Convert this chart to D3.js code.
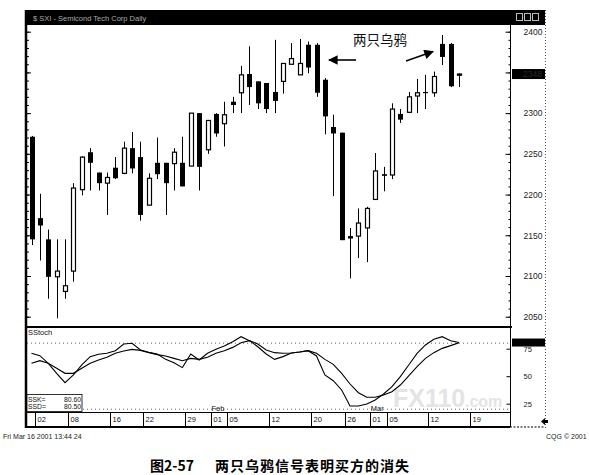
<!DOCTYPE html>
<html>
<head>
<meta charset="utf-8">
<script src="https://cdn.jsdelivr.net/npm/d3@7/dist/d3.min.js"></script>
<style>
body{margin:0;background:#fff;}
svg{display:block;font-family:"Liberation Sans",Arial,sans-serif;}
</style>
</head>
<body>
<svg id="chart" width="589" height="475"></svg>
<script>
// ---------------- data ----------------
const days = ["01-02","01-03","01-04","01-05","01-08","01-09","01-10","01-11","01-12","01-16",
  "01-17","01-18","01-19","01-22","01-23","01-24","01-25","01-26","01-29","01-30","01-31",
  "02-01","02-02","02-05","02-06","02-07","02-08","02-09","02-12","02-13","02-14","02-15",
  "02-16","02-20","02-21","02-22","02-23","02-26","02-27","02-28","03-01","03-02","03-05",
  "03-06","03-07","03-08","03-09","03-12","03-13","03-14","03-15","03-16"];
const open  = [2271,2171,2145,2099,2081,2106,2206,2252,2227,2214,2233,2226,2257,2246,2187,2239,2239,2238,2239,2235,2300,2255,2299,2287,2314,2325,2348,2339,2337,2326,2339,2360,2347,2384,2384,2341,2283,2276,2149,2149,2159,2194,2225,2224,2299,2301,2321,2326,2325,2385,2385,2347];
const high  = [2272,2201,2157,2145,2145,2214,2247,2257,2227,2227,2246,2265,2277,2265,2226,2270,2239,2257,2271,2300,2300,2291,2300,2314,2320,2358,2382,2339,2337,2390,2361,2386,2391,2388,2386,2343,2298,2276,2159,2183,2185,2251,2234,2312,2305,2326,2342,2347,2351,2396,2386,2349];
const low   = [2138,2119,2072,2048,2072,2093,2199,2205,2205,2175,2219,2225,2226,2168,2187,2219,2175,2205,2210,2235,2205,2250,2271,2259,2300,2300,2310,2305,2300,2300,2324,2360,2347,2349,2320,2274,2198,2144,2097,2122,2117,2194,2204,2219,2288,2300,2300,2305,2320,2359,2332,2332];
const close = [2145,2162,2099,2106,2088,2208,2246,2239,2214,2221,2220,2257,2232,2175,2220,2225,2214,2252,2210,2300,2234,2291,2275,2298,2310,2347,2332,2312,2305,2315,2361,2367,2361,2356,2325,2296,2275,2144,2146,2165,2183,2229,2223,2305,2292,2320,2325,2325,2345,2369,2333,2348];
const slowK = [70.8,68.7,61.7,52.6,44.1,51.1,60.2,67.8,69.9,70.8,73.2,79.3,79.9,73.8,71.7,70.2,65.3,62.3,57.8,70.2,64.7,70.8,74.4,77.5,81.4,85.9,82.3,76.8,70.2,65.3,67.8,71.1,72.0,73.2,68.4,51.1,45.9,37.5,22.9,22.9,24.7,28.4,33.8,40.5,49.6,60.2,70.8,78.4,83.5,85.9,82.3,80.6];
const slowD = [61.7,64.1,61.7,57.2,52.6,52.6,57.2,61.7,64.7,67.2,70.8,72.9,74.4,73.5,71.4,69.6,68.4,66.2,64.1,66.2,65.3,67.2,70.8,73.2,76.2,80.5,82.3,79.3,73.8,71.4,70.8,71.1,72.0,73.2,70.8,65.3,60.8,52.6,42.9,35.0,30.8,30.8,32.9,35.9,42.0,50.2,58.7,66.2,71.4,75.3,77.8,80.5];
const priceTicks = [2050,2100,2150,2200,2250,2300,2350,2400];
const priceTickLabels = ["2050","2100","2150","2200","2250","2300","2350","2400"];
const stochTicks = [25,50,75];
const stochLevels = [20,80];
const dateTickIdx = [0,4,9,13,18,21,23,28,33,37,40,42,47,52];
const dateTickLabels = ["02","08","16","22","29","01","05","12","20","26","01","05","12","19"];
const monthIdx = [21,40];
const monthLabels = ["Feb","Mar"];
const titleText = "$ SXI - Semicond Tech Corp Daily";
const annotation = "两只乌鸦";
const captionNum = "图2-57";
const captionText = "两只乌鸦信号表明买方的消失";
const stampText = "Fri Mar 16 2001 13:44 24";
const copyText = "CQG © 2001";

// ---------------- layout ----------------
const svg = d3.select("#chart");
const L = 25, R = 510, AX = 545;
const titleTop = 10, priceTop = 25, priceBot = 327, stochBot = 412, dateBot = 427;

const x = d3.scaleLinear().domain([0, 51]).range([31.5, 459]);
const y = d3.scaleLinear().domain([2050, 2400]).range([316.7, 31.7]);
const ys = d3.scaleLinear().domain([0, 100]).range([431.2, 321.2]);

// watermark
svg.append("text").attr("x", 393).attr("y", 407).attr("font-size", 25).attr("font-weight", "bold")
  .attr("fill", "#e4e4e4").text("FX110");
svg.append("text").attr("x", 465).attr("y", 407).attr("font-size", 16).attr("font-weight", "bold")
  .attr("fill", "#e4e4e4").text(".com");

// title bar
svg.append("rect").attr("x", L).attr("y", titleTop).attr("width", AX - L).attr("height", priceTop - titleTop).attr("fill", "#000");
svg.append("text").attr("x", 33).attr("y", 20.5).attr("font-size", 7.5).attr("fill", "#aaa").text(titleText);
[516, 524, 532].forEach(px => svg.append("rect").attr("x", px + 0.5).attr("y", 13.5).attr("width", 6).attr("height", 7)
  .attr("fill", "none").attr("stroke", "#bbb").attr("stroke-width", 1));

// frames
const frame = svg.append("g").attr("stroke", "#000");
frame.append("line").attr("x1", L + 1).attr("x2", L + 1).attr("y1", titleTop).attr("y2", dateBot + 1).attr("stroke-width", 2.5);
frame.append("line").attr("x1", R + 0.5).attr("x2", R + 0.5).attr("y1", priceTop).attr("y2", dateBot).attr("stroke-width", 1);
frame.append("line").attr("x1", L).attr("x2", R + 2).attr("y1", priceBot).attr("y2", priceBot).attr("stroke-width", 2.2);
frame.append("line").attr("x1", L).attr("x2", R).attr("y1", stochBot + 0.5).attr("y2", stochBot + 0.5).attr("stroke-width", 1);
frame.append("line").attr("x1", L).attr("x2", R).attr("y1", dateBot).attr("y2", dateBot).attr("stroke-width", 2.2);
frame.append("line").attr("x1", R).attr("x2", AX).attr("y1", dateBot).attr("y2", dateBot).attr("stroke-width", 1.2).attr("stroke-dasharray", "2,1.5");
frame.append("line").attr("x1", AX + 0.5).attr("x2", AX + 0.5).attr("y1", titleTop).attr("y2", dateBot + 2)
  .attr("stroke", "#555").attr("stroke-width", 1).attr("stroke-dasharray", "1,2");

// price axis (right)
const pAxis = svg.append("g").attr("transform", `translate(${R + 0.5},0)`)
  .call(d3.axisRight(y).tickValues(priceTicks).tickFormat((d, i) => priceTickLabels[i])
    .tickSizeInner(-5).tickSizeOuter(0).tickPadding(13));
pAxis.select(".domain").remove();
pAxis.selectAll("text").attr("font-size", 8.5).attr("fill", "#222");
const pMinor = svg.append("g").attr("transform", `translate(${R + 0.5},0)`)
  .call(d3.axisRight(y).tickValues(d3.range(2050, 2401, 10)).tickFormat("").tickSizeInner(-2).tickSizeOuter(0));
pMinor.select(".domain").remove();
// left inner ticks
const lAxis = svg.append("g").attr("transform", `translate(${L + 2},0)`)
  .call(d3.axisRight(y).tickValues(priceTicks).tickFormat("").tickSizeInner(4).tickSizeOuter(0));
lAxis.select(".domain").remove();
const lMinor = svg.append("g").attr("transform", `translate(${L + 2},0)`)
  .call(d3.axisRight(y).tickValues(d3.range(2050, 2401, 10)).tickFormat("").tickSizeInner(2).tickSizeOuter(0));
lMinor.select(".domain").remove();

// candles
const cg = svg.append("g");
days.forEach((d, i) => {
  const cx = Math.round(x(i));
  const up = close[i] > open[i];
  cg.append("line").attr("x1", cx + 0.5).attr("x2", cx + 0.5)
    .attr("y1", y(high[i])).attr("y2", y(low[i])).attr("stroke", "#000").attr("stroke-width", 1);
  const top = y(Math.max(open[i], close[i])), bot = y(Math.min(open[i], close[i]));
  const h = Math.max(1.2, bot - top);
  if (up) {
    cg.append("rect").attr("x", cx - 1.5).attr("y", top).attr("width", 4).attr("height", h)
      .attr("fill", "#fff").attr("stroke", "#000").attr("stroke-width", 1.2);
  } else {
    cg.append("rect").attr("x", cx - 2).attr("y", top).attr("width", 5).attr("height", h).attr("fill", "#000");
  }
});

// last price box
const lastC = close[close.length - 1];
svg.append("rect").attr("x", R + 2).attr("y", y(lastC) - 5).attr("width", AX - R - 2).attr("height", 10).attr("fill", "#000");
svg.append("text").attr("x", R + 13).attr("y", y(lastC) + 3).attr("font-size", 8.5).attr("fill", "#2a2a2a").text(String(lastC));

// annotation
svg.append("text").attr("x", 353).attr("y", 45).attr("font-size", 13.5)
  .attr("font-family", "Noto Sans CJK SC, sans-serif").attr("fill", "#111").text(annotation);
const defs = svg.append("defs");
defs.append("marker").attr("id", "ah").attr("viewBox", "0 0 10 10").attr("refX", 9).attr("refY", 5)
  .attr("markerWidth", 7).attr("markerHeight", 6).attr("orient", "auto")
  .append("path").attr("d", "M0,0 L10,5 L0,10 z").attr("fill", "#000");
svg.append("line").attr("x1", 356).attr("y1", 60).attr("x2", 329).attr("y2", 60)
  .attr("stroke", "#000").attr("stroke-width", 1.6).attr("marker-end", "url(#ah)");
svg.append("line").attr("x1", 406).attr("y1", 61).attr("x2", 433).attr("y2", 51.5)
  .attr("stroke", "#000").attr("stroke-width", 1.6).attr("marker-end", "url(#ah)");

// stochastic panel
svg.append("text").attr("x", 28).attr("y", 335).attr("font-size", 7.5).attr("fill", "#111").text("SStoch");
stochLevels.forEach(v => svg.append("line").attr("x1", L + 2).attr("x2", R).attr("y1", ys(v)).attr("y2", ys(v))
  .attr("stroke", "#555").attr("stroke-width", 0.9).attr("stroke-dasharray", "1,3"));
const sAxis = svg.append("g").attr("transform", `translate(${R + 0.5},0)`)
  .call(d3.axisRight(ys).tickValues(stochTicks).tickSizeInner(-4).tickSizeOuter(0).tickPadding(13));
sAxis.select(".domain").remove();
sAxis.selectAll("text").attr("font-size", 7.5).attr("fill", "#222");

const line = d3.line().x((d, i) => x(i)).y(d => ys(d));
svg.append("path").datum(slowD).attr("d", line).attr("fill", "none").attr("stroke", "#000").attr("stroke-width", 1.1);
svg.append("path").datum(slowK).attr("d", line).attr("fill", "none").attr("stroke", "#000").attr("stroke-width", 1.1);

const lastK = slowK[slowK.length - 1], lastD = slowD[slowD.length - 1];
svg.append("rect").attr("x", R + 2).attr("y", ys(lastK) - 4).attr("width", AX - R - 2).attr("height", 8).attr("fill", "#000");

// SSK / SSD readout box
svg.append("rect").attr("x", L + 2).attr("y", 394.5).attr("width", 55).attr("height", 17).attr("fill", "#fff")
  .attr("stroke", "#000").attr("stroke-width", 0.8);
svg.append("text").attr("x", 28).attr("y", 401.5).attr("font-size", 6.8).attr("fill", "#111").text("SSK=");
svg.append("text").attr("x", 81).attr("y", 401.5).attr("font-size", 6.8).attr("fill", "#111").attr("text-anchor", "end").text(lastK.toFixed(2));
svg.append("text").attr("x", 28).attr("y", 409).attr("font-size", 6.8).attr("fill", "#111").text("SSD=");
svg.append("text").attr("x", 81).attr("y", 409).attr("font-size", 6.8).attr("fill", "#111").attr("text-anchor", "end").text(lastD.toFixed(2));

// month labels
monthIdx.forEach((idx, k) => svg.append("text").attr("x", x(idx) + 4).attr("y", 411).attr("font-size", 7.5)
  .attr("fill", "#111").text(monthLabels[k]));

// date axis
dateTickIdx.forEach((idx, k) => {
  const tx = Math.round(x(idx) + 3) + 0.5;
  svg.append("line").attr("x1", tx).attr("x2", tx).attr("y1", stochBot).attr("y2", dateBot).attr("stroke", "#000").attr("stroke-width", 1);
  svg.append("text").attr("x", tx + 2).attr("y", 422).attr("font-size", 7.5).attr("fill", "#111").text(dateTickLabels[k]);
});

// small arrow icon
svg.append("path").attr("d", "M541,421.5 L545,418 L545,420 L548,420 L548,423 L545,423 L545,425 Z").attr("fill", "#000");

// stamps
svg.append("text").attr("x", 3).attr("y", 439).attr("font-size", 7).attr("fill", "#222").text(stampText);
svg.append("text").attr("x", 546).attr("y", 439).attr("font-size", 7).attr("fill", "#222").text(copyText);

// caption
svg.append("text").attr("x", 150).attr("y", 471).attr("font-size", 14).attr("font-weight", "bold")
  .attr("font-family", "Noto Sans CJK SC, sans-serif").attr("fill", "#000").text(captionNum);
svg.append("text").attr("x", 215).attr("y", 471).attr("font-size", 14).attr("font-weight", "bold")
  .attr("letter-spacing", 1).attr("font-family", "Noto Sans CJK SC, sans-serif").attr("fill", "#000").text(captionText);
</script>
</body>
</html>
